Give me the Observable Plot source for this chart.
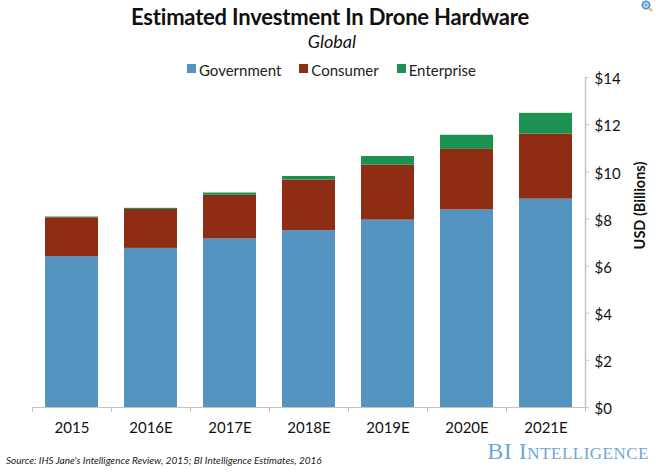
<!DOCTYPE html>
<html>
<head>
<meta charset="utf-8">
<script src="https://cdn.jsdelivr.net/npm/d3@7"></script>
<script src="https://cdn.jsdelivr.net/npm/@observablehq/plot@0.6"></script>
<style>
html,body{margin:0;padding:0;background:#fff;}
#wrap{position:relative;width:656px;height:472px;overflow:hidden;font-family:Lato,sans-serif;color:#111;}
#wrap svg{position:absolute;left:0;top:0;}
.t{position:absolute;white-space:nowrap;}
#title{left:0;width:656px;margin-left:2px;text-align:center;top:3px;font-size:22px;font-weight:700;letter-spacing:-.2px;}
#sub{left:0;width:656px;margin-left:4px;text-align:center;top:30px;font-size:18px;font-style:italic;}
#legend{left:187px;top:61px;font-size:15px;display:flex;color:#222;}
#legend span{display:flex;align-items:center;margin-right:18px;}
#legend i{display:inline-block;width:9px;height:9px;margin-right:3px;margin-top:-3px;}
#source{left:6px;top:466px;transform:translateY(-100%);font-size:10px;font-style:italic;color:#222;}
#brand{right:7px;top:438px;font-family:"Liberation Serif",serif;font-size:24px;color:#6fa6d2;font-variant:small-caps;letter-spacing:.5px;}
#wrap svg#zoomIcon{left:640px;top:0;}
</style>
</head>
<body>
<div id="wrap">
  <div class="t" id="title">Estimated Investment In Drone Hardware</div>
  <div class="t" id="sub">Global</div>
  <div class="t" id="legend"></div>
  <div class="t" id="brand">BI Intelligence</div>
  <div class="t" id="source">Source: IHS Jane's Intelligence Review, 2015; BI Intelligence Estimates, 2016</div>
  <svg id="zoomIcon" width="14" height="14" viewBox="0 0 14 14"><circle cx="6" cy="5" r="3.6" fill="#dbeaf6" stroke="#4f94cc" stroke-width="1.8"/><path d="M4.2 5H7.8M6 3.2V6.8" stroke="#4f94cc" stroke-width="1"/><path d="M9 8L12 11" stroke="#d9b36a" stroke-width="2"/></svg>
</div>
<script>
const years = ["2015","2016E","2017E","2018E","2019E","2020E","2021E"];
const government = [6.4,6.75,7.15,7.5,7.95,8.38,8.84];
const consumer = [1.65,1.65,1.85,2.15,2.33,2.57,2.76];
const enterprise = [0.03,0.05,0.1,0.15,0.37,0.6,0.88];
const seriesNames = ["Government","Consumer","Enterprise"];
const seriesColors = ["#5593c0","#8e2d14","#1c9152"];
const yTicks = [0,2,4,6,8,10,12,14];

const rows = [];
years.forEach((year,i)=>{
  rows.push({year,series:"Government",value:government[i]});
  rows.push({year,series:"Consumer",value:consumer[i]});
  rows.push({year,series:"Enterprise",value:enterprise[i]});
});

const W=656,H=472,mL=32,mR=71,mT=77,mB=65;
const step=(W-mL-mR)/years.length;
const axisGray="#c4c4c4";

const chart = Plot.plot({
  width:W,height:H,marginLeft:mL,marginRight:mR,marginTop:mT,marginBottom:mB,
  style:{background:"transparent",fontFamily:"Lato,sans-serif"},
  x:{domain:years,paddingInner:0.33,paddingOuter:0.165,align:0.5,label:null},
  y:{type:"linear",domain:[0,14],label:null},
  color:{domain:seriesNames,range:seriesColors},
  marks:[
    Plot.barY(rows,{x:"year",y:"value",fill:"series",order:seriesNames}),
    Plot.ruleY([0],{stroke:axisGray,strokeWidth:1.2}),
    Plot.ruleX([years[years.length-1]],{y1:0,y2:14,dx:step/2,stroke:axisGray,strokeWidth:1.5}),
    Plot.ruleX(years,{x:d=>d,y1:0,y2:0,dx:-step/2,insetBottom:-5,stroke:axisGray}),
    Plot.ruleX([years[years.length-1]],{y1:0,y2:0,dx:step/2,insetBottom:-5,stroke:axisGray}),
    Plot.axisX({anchor:"bottom",tickSize:0,tickPadding:15,fontSize:15,fill:"#111",label:null,tickFormat:d=>d}),
    Plot.axisY({anchor:"right",ticks:yTicks,tickSize:3,stroke:axisGray,text:null,label:null}),
    Plot.axisY({anchor:"right",ticks:yTicks,tickSize:0,tickPadding:9,fontSize:15,fill:"#111",dy:2,tickFormat:d=>"$"+d,label:null}),
    Plot.text(["USD (Billions)"],{frameAnchor:"right",textAnchor:"middle",rotate:-90,dx:55,dy:-37,fontSize:14.5,fontWeight:700,fill:"#111"})
  ]
});
const wrap=document.getElementById("wrap");
wrap.insertBefore(chart,wrap.firstChild);

const legend=document.getElementById("legend");
seriesNames.forEach((n,i)=>{
  const s=document.createElement("span");
  const b=document.createElement("i");b.style.background=seriesColors[i];
  s.appendChild(b);s.appendChild(document.createTextNode(n));legend.appendChild(s);
});
</script>
</body>
</html>
